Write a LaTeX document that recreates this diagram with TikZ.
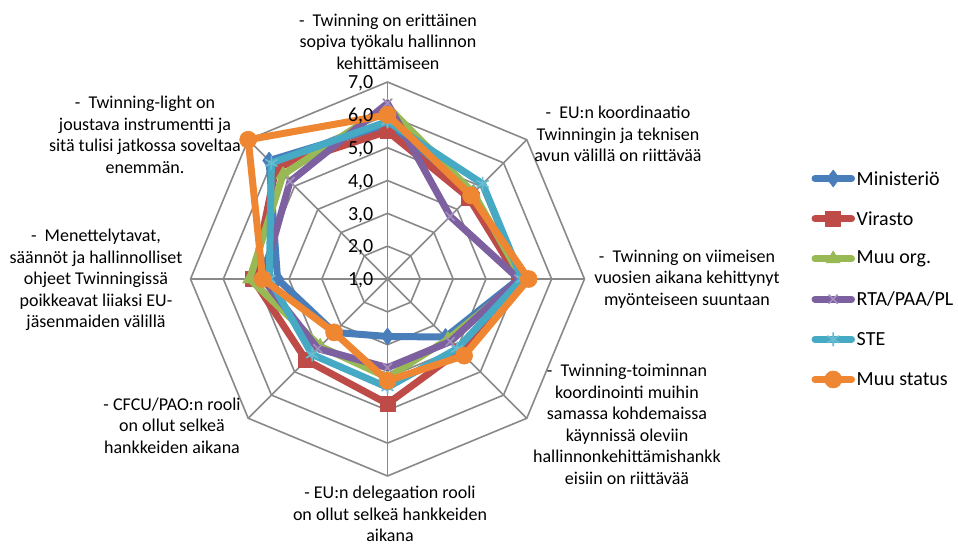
\documentclass[tikz,border=0pt]{standalone}
\usepackage{fontspec}
\setmainfont{Carlito}
\usepackage{xcolor}
\usepackage{tikz}
\usetikzlibrary{plotmarks}

\definecolor{gridgray}{HTML}{898989}
\definecolor{minblue}{HTML}{4A7EBB}
\definecolor{virred}{HTML}{BE4B48}
\definecolor{orggreen}{HTML}{98B954}
\definecolor{rtapurple}{HTML}{7D60A0}
\definecolor{steteal}{HTML}{46AAC5}
\definecolor{muuorange}{HTML}{EE8632}

% one scale step (1,0 -> 2,0) in pt
\newcommand{\radunit}{32.83}
% style, then the eight values clockwise from the top axis
\newcommand{\radar}[9]{%
  \draw[#1] plot coordinates {(90:{(#2-1)*\radunit}) (45:{(#3-1)*\radunit})
    (0:{(#4-1)*\radunit}) (-45:{(#5-1)*\radunit}) (-90:{(#6-1)*\radunit})
    (-135:{(#7-1)*\radunit}) (180:{(#8-1)*\radunit}) (135:{(#9-1)*\radunit})
    (90:{(#2-1)*\radunit})};}

\begin{document}
\begin{tikzpicture}[x=1pt, y=1pt,
  gridline/.style={draw=gridgray, line width=1.6pt, line join=miter},
  dataline/.style={line width=7pt, line join=round, line cap=round},
  ministerio/.style={dataline, draw=minblue, mark=diamond*, mark size=8.5pt,
                     mark options={fill=minblue, draw=minblue, line width=0.6pt}},
  virasto/.style={dataline, draw=virred, mark=square*, mark size=7.5pt,
                  mark options={fill=virred, draw=virred, line width=0.6pt}},
  muuorg/.style={dataline, draw=orggreen, mark=triangle*, mark size=8pt,
                 mark options={fill=orggreen, draw=orggreen, line width=0.6pt}},
  rta/.style={dataline, draw=rtapurple, mark=x, mark size=6pt,
              mark options={draw=rtapurple!70, line width=1.6pt}},
  ste/.style={dataline, draw=steteal, mark=asterisk, mark size=6.5pt,
              mark options={draw=steteal!80, line width=1.6pt}},
  muustatus/.style={dataline, draw=muuorange, mark=*, mark size=8.5pt,
                    mark options={fill=muuorange, draw=muuorange, line width=0.6pt}},
  axislabel/.style={font=\fontsize{18}{21.5}\selectfont, align=center, inner sep=0pt},
  ticklabel/.style={font=\fontsize{20}{24}\selectfont, anchor=east, inner sep=0pt},
  legendtext/.style={font=\fontsize{20}{24}\selectfont, anchor=west, inner sep=0pt}
]
  \path[use as bounding box, fill=white] (-387.5,-266) rectangle (570.5,279);

  % octagon grid and spokes
  \foreach \v in {1,...,6}
    \draw[gridline] (90:{\v*\radunit}) -- (45:{\v*\radunit}) -- (0:{\v*\radunit})
      -- (-45:{\v*\radunit}) -- (-90:{\v*\radunit}) -- (-135:{\v*\radunit})
      -- (180:{\v*\radunit}) -- (135:{\v*\radunit}) -- cycle;
  \foreach \a in {0,45,...,315}
    \draw[gridline] (0,0) -- (\a:{6*\radunit});

  % series
  \radar{ministerio}{5.7}{4.7}{5.0}{3.5}{2.75}{3.3}{4.35}{6.1}
  \radar{virasto}{5.5}{4.5}{5.0}{4.1}{4.8}{4.5}{5.1}{5.8}
  \radar{muuorg}{6.25}{4.7}{5.1}{3.6}{4.0}{3.9}{5.2}{5.5}
  \radar{rta}{6.35}{3.7}{5.0}{3.7}{3.7}{4.0}{4.8}{5.2}
  \radar{ste}{5.8}{5.1}{5.1}{4.0}{4.3}{4.25}{4.6}{6.0}
  \radar{muustatus}{6.0}{4.6}{5.3}{4.3}{4.1}{3.3}{4.8}{7.0}

  % scale
  \foreach \v in {1,...,7}
    \node[ticklabel] (tick\v) at (-14,{(\v-1)*\radunit-1.5}) {\v,0};

  % category labels
  \node[axislabel] (ax1) at (0.5,237.3) {-\ \ Twinning on erittäinen\\sopiva työkalu hallinnon\\kehittämiseen};
  \node[axislabel] (ax2) at (230.5,145) {-\ \ EU:n koordinaatio\\Twinningin ja teknisen\\avun välillä on riittävää};
  \node[axislabel] (ax3) at (299.5,0) {-\ \ Twinning on viimeisen\\vuosien aikana kehittynyt\\myönteiseen suuntaan};
  \node[axislabel] (ax4) at (239.5,-145.5) {-\ \ Twinning-toiminnan\\koordinointi muihin\\samassa kohdemaissa\\käynnissä oleviin\\hallinnonkehittämishankk\\eisiin on riittävää};
  \node[axislabel] (ax5) at (2.5,-235) {- EU:n delegaation rooli\\on ollut selkeä hankkeiden\\aikana};
  \node[axislabel] (ax6) at (-215.5,-146.5) {- CFCU/PAO:n rooli\\on ollut selkeä\\hankkeiden aikana};
  \node[axislabel] (ax7) at (-291.5,-1) {-\ \ Menettelytavat,\\säännöt ja hallinnolliset\\ohjeet Twinningissä\\poikkeavat liiaksi EU-\\jäsenmaiden välillä};
  \node[axislabel] (ax8) at (-242.5,144.4) {-\ \ Twinning-light on\\joustava instrumentti ja\\sitä tulisi jatkossa soveltaa\\enemmän.};

  % legend
  \node[legendtext] (leg1) at (469,100.5) {Ministeriö};
  \node[legendtext] (leg2) at (469,60.3) {Virasto};
  \node[legendtext] (leg3) at (469,20.1) {Muu org.};
  \node[legendtext] (leg4) at (469,-20.1) {RTA/PAA/PL};
  \node[legendtext] (leg5) at (469,-60.3) {STE};
  \node[legendtext] (leg6) at (469,-100.5) {Muu status};

  \draw[ministerio] ([xshift=-41.5pt]leg1.west) -- ([xshift=-5pt]leg1.west);
  \path[ministerio] plot coordinates {([xshift=-23.3pt]leg1.west)};
  \draw[virasto] ([xshift=-41.5pt]leg2.west) -- ([xshift=-5pt]leg2.west);
  \path[virasto] plot coordinates {([xshift=-23.3pt]leg2.west)};
  \draw[muuorg] ([xshift=-41.5pt]leg3.west) -- ([xshift=-5pt]leg3.west);
  \path[muuorg] plot coordinates {([xshift=-23.3pt]leg3.west)};
  \draw[rta] ([xshift=-41.5pt]leg4.west) -- ([xshift=-5pt]leg4.west);
  \path[rta] plot coordinates {([xshift=-23.3pt]leg4.west)};
  \draw[ste] ([xshift=-41.5pt]leg5.west) -- ([xshift=-5pt]leg5.west);
  \path[ste] plot coordinates {([xshift=-23.3pt]leg5.west)};
  \draw[muustatus] ([xshift=-41.5pt]leg6.west) -- ([xshift=-5pt]leg6.west);
  \path[muustatus] plot coordinates {([xshift=-23.3pt]leg6.west)};
\end{tikzpicture}
\end{document}
